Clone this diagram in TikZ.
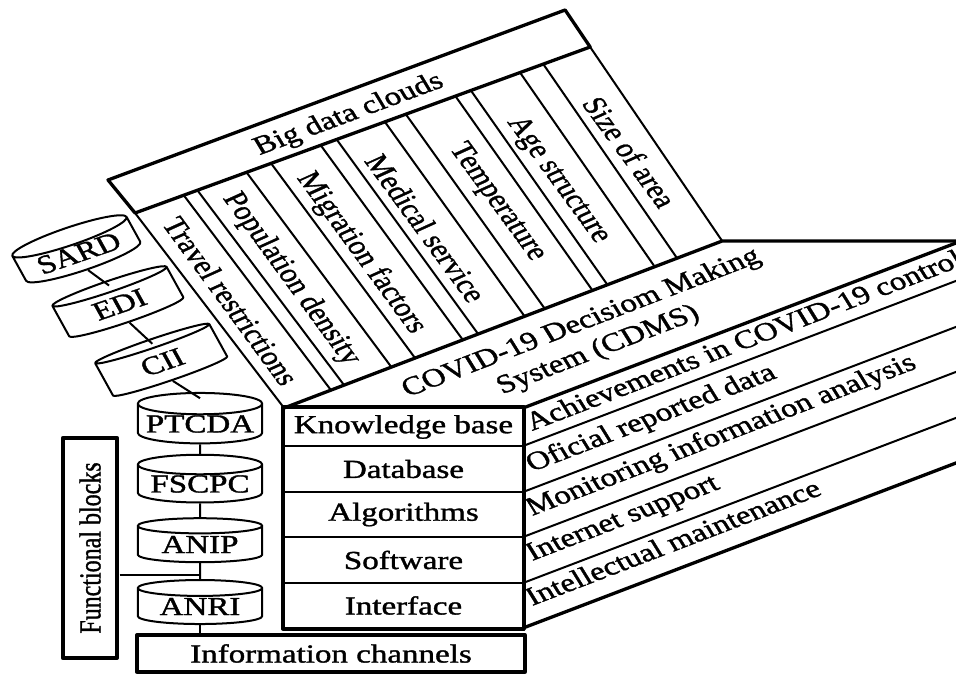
\documentclass[tikz,border=0pt]{standalone}
\usepackage{fontspec}
\setmainfont{Liberation Serif}[FakeBold=1.2]
\usetikzlibrary{shapes.geometric,calc}
\begin{document}
\begin{tikzpicture}[x=0.787402pt, y=-1pt, xscale=1.27, transform shape,
  every node/.style={font=\fontsize{26}{30}\selectfont, inner sep=0pt},
  thickln/.style={line width=3.3pt},
  thinln/.style={line width=2pt},
  cyl/.style={cylinder, shape border rotate=90, draw, line width=2pt,
    minimum width=98pt, minimum height=44pt, aspect=0.25, inner sep=0pt, fill=white},
  rowbox/.style={draw, line width=1.8pt, minimum width=188.2pt, inner sep=0pt},
  coltext/.style={rotate=-60},
  facetext/.style={rotate=26, anchor=base west, inner sep=0pt},
  line join=round]
\useasboundingbox (0,0) rectangle (956,676);
\clip (0,0) rectangle (956,676);

% key corners
\coordinate (T1) at (108,180);
\coordinate (T2) at (565,10);
\coordinate (T3) at (590,47);
\coordinate (T4) at (135,213);
\coordinate (B1) at (284,408);
\coordinate (B2) at (722,241);
\coordinate (B3) at (961,241);
\coordinate (F1) at (523,408);
\coordinate (F2) at (523,628);
\coordinate (B4) at (961,461);

% big data clouds strips
\foreach \t in {0.107,0.137,0.245,0.299,0.408,0.443,0.549,0.595,0.704,0.738,0.846,0.897}
  \draw[thinln] ($(T4)!\t!(T3)$) -- ($(B1)!\t!(B2)$);
\draw[thinln] (T4) -- (B1);
\draw[thinln] (T3) -- (B2);
\draw[thickln] (T1) -- (T2) -- (T3) -- (T4) -- cycle;
\node[rotate=25.3] (bdc) at (349,115) {Big data clouds};

\node[coltext] (c1) at (231,301) {Travel restrictions};
\node[coltext] (c2) at (291,279) {Population density};
\node[coltext] (c3) at (361,253) {Migration factors};
\node[coltext] (c4) at (426,228) {Medical service};
\node[coltext] (c5) at (497,202) {Temperature};
\node[coltext] (c6) at (558,180) {Age structure};
\node[coltext] (c7) at (630,152) {Size of area};

% top face
\draw[thickln] (B1) -- (B2) -- (B3);
\draw[thickln] (F1) -- (B3);
\node[rotate=26, align=center] (cdms) at (590,337) {COVID-19 Decisiom Making\\System (CDMS)};

% right face
\foreach \y in {446,492,537,583}
  \draw[thinln] (523,\y) -- ++(438,-167);
\draw[thickln] (F2) -- (B4);
\node[facetext] (r1) at (532,431) {Achievements in COVID-19 control};
\node[facetext] (r2) at (532,472) {Oficial reported data};
\node[facetext] (r3) at (532,516) {Monitoring information analysis};
\node[facetext] (r4) at (532,561) {Internet support};
\node[facetext] (r5) at (532,606) {Intellectual maintenance};

% front box
\node[rowbox, minimum height=38pt] (kb) at (403.5,427) {Knowledge base};
\node[rowbox, minimum height=46pt] (db) at (403.5,469) {Database};
\node[rowbox, minimum height=45pt] (alg) at (403.5,514.5) {Algorithms};
\node[rowbox, minimum height=46pt] (sw) at (403.5,560) {Software};
\node[rowbox, minimum height=45pt] (intf) at (403.5,605.5) {Interface};
\draw[thickln] (kb.north west) rectangle (intf.south east);

% information channels
\node[draw, thickln, minimum width=305.5pt, minimum height=37pt] (info) at (331,653.5) {Information channels};

% functional blocks
\node[draw, line width=4.2pt, rotate=90, minimum width=220pt, minimum height=42.5pt,
  font=\fontsize{24}{28}\selectfont] (fb) at (90,548) {Functional blocks};

% cylinders
\node[cyl, rotate=23.5] (sard) at (78.75,253.25) {SARD};
\node[cyl, rotate=23.5] (edi) at (119.5,304.5) {EDI};
\node[cyl, rotate=23.5] (cii) at (162.5,362.25) {CII};
\node[cyl] (ptcda) at (200,424) {PTCDA};
\node[cyl] (fscpc) at (200,484) {FSCPC};
\node[cyl] (anip) at (200,544.5) {ANIP};
\node[cyl] (anri) at (200,606.5) {ANRI};

% connectors
\coordinate (j) at (200,575);
\draw[thinln] (sard.south) -- ($(edi.north)!0.12!(edi.south)$);
\draw[thinln] (edi.south) -- ($(cii.north)!0.12!(cii.south)$);
\draw[thinln] (cii.south) -- ($(ptcda.north)!0.12!(ptcda.south)$);
\draw[thinln] (ptcda.south) -- (fscpc.north);
\draw[thinln] (fscpc.south) -- (anip.north);
\draw[thinln] (anip.south) -- (anri.north);
\draw[thinln] (fb.south |- j) -- (j);
\draw[thinln] (anri.south) -- (anri.south |- info.north);
\draw[thinln] ($(intf.south)+(4.5,0)$) -- ($(intf.south)+(4.5,0)$ |- info.north);
\end{tikzpicture}
\end{document}
